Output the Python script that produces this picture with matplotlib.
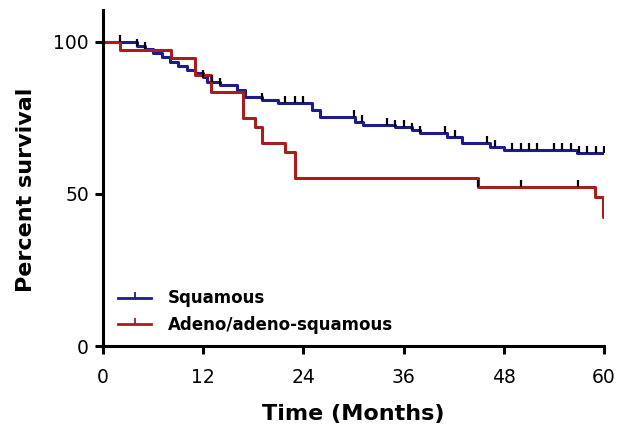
import matplotlib
matplotlib.use("Agg")
import matplotlib.pyplot as plt
from matplotlib.lines import Line2D

plt.rcParams['font.family'] = ['DejaVu Sans']

BLUE = '#1c1c8a'
RED = '#a81e1e'

# Squamous: step times (months) and survival (%)
sq_t = [0, 4.1, 5.0, 6.0, 7.1, 8.0, 9.0, 10.0, 11.0, 12.0, 12.5, 14.0, 16.0, 17.0,
        19.0, 21.0, 25.0, 26.0, 30.2, 31.1, 35.0, 37.0, 38.0, 41.2, 43.0, 46.3,
        48.0, 56.8, 60.0]
sq_s = [100, 98.7, 97.7, 96.4, 95.0, 93.4, 92.0, 90.8, 89.8, 88.5, 86.8, 85.8, 84.2, 82.0,
        81.0, 80.0, 77.6, 75.3, 73.7, 72.7, 72.0, 71.0, 70.2, 68.8, 66.8, 65.6,
        64.5, 63.5, 63.5]
sq_cens = [2.0, 4.1, 5.0, 12.0, 13.0, 14.0, 19.0, 21.8, 23.0, 24.0, 30.0, 31.0, 34.0,
           35.0, 36.0, 37.0, 38.0, 41.0, 42.2, 46.0, 47.0, 49.0, 50.0, 51.0, 52.0,
           54.0, 55.0, 56.0, 57.0, 58.0, 59.0, 60.0]

# Adeno/adeno-squamous
ad_t = [0, 2.0, 8.1, 11.0, 12.9, 16.8, 18.2, 19.0, 21.8, 23.0, 44.9, 58.9, 59.9, 60.0]
ad_s = [100, 97.4, 94.6, 89.0, 83.6, 75.0, 72.0, 66.8, 63.8, 55.3, 52.3, 49.0, 42.4, 42.4]
ad_cens = [44.9, 50.0, 56.9]


def surv_at(ts, ss, x):
    v = ss[0]
    for t, s in zip(ts, ss):
        if t <= x:
            v = s
    return v


tick_mark = [(0, 0), (0, 1)]

fig = plt.figure(figsize=(6.19, 4.36), dpi=100)
ax = fig.add_axes([0.1664, 0.2064, 0.8094, 0.7706])

ax.step(sq_t, sq_s, where='post', color=BLUE, lw=2.2)
ax.step(ad_t, ad_s, where='post', color=RED, lw=2.2)

ax.plot(sq_cens, [surv_at(sq_t, sq_s, c) for c in sq_cens], ls='none',
        marker=tick_mark, ms=10, mew=1.6, color='black')
ax.plot(ad_cens, [surv_at(ad_t, ad_s, c) for c in ad_cens], ls='none',
        marker=tick_mark, ms=10, mew=1.6, color='black')

ax.set_xlim(0, 60)
ax.set_ylim(0, 110.5)
ax.set_xticks([0, 12, 24, 36, 48, 60])
ax.set_yticks([0, 50, 100])
for sp in ['top', 'right']:
    ax.spines[sp].set_visible(False)
for sp in ['left', 'bottom']:
    ax.spines[sp].set_linewidth(2.2)
ax.tick_params(direction='out', length=6, width=2.2, labelsize=13.5)
ax.tick_params(axis='x', pad=10)
ax.tick_params(axis='y', pad=4)
ax.set_xlabel('Time (Months)', fontsize=16, fontweight='bold', labelpad=12)
ax.set_ylabel('Percent survival', fontsize=16, fontweight='bold')
ax.yaxis.set_label_coords(-0.134, 0.464)

handles = [
    Line2D([], [], color=BLUE, lw=2, marker=tick_mark, ms=8, mew=1.3, mec=BLUE),
    Line2D([], [], color=RED, lw=2, marker=tick_mark, ms=8, mew=1.3, mec=RED),
]
ax.legend(handles, ['Squamous', 'Adeno/adeno-squamous'], loc='lower left',
          bbox_to_anchor=(0.0, -0.008), frameon=False,
          prop={'size': 12, 'weight': 'bold'},
          handlelength=2.0, handletextpad=1.0, labelspacing=0.5)

fig.savefig('out.png', dpi=100)
